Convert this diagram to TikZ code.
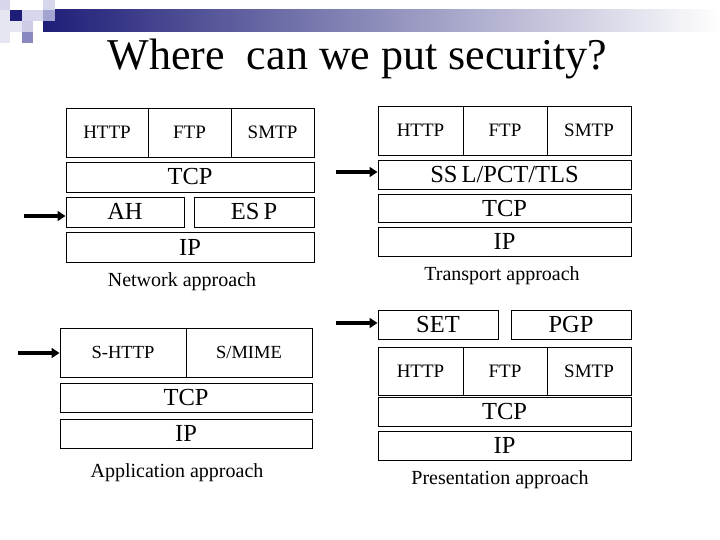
\documentclass[tikz,border=0pt]{standalone}
\usepackage{fontspec}
\setmainfont{Liberation Serif}
\usetikzlibrary{arrows.meta}

\definecolor{barnavy}{HTML}{1E1E78}
\definecolor{sqlight}{HTML}{D6D6EC}
\definecolor{sqmid}{HTML}{A4A4D2}
\definecolor{sqpale}{HTML}{E6E6F2}

\tikzset{
  layer/.style={draw, line width=0.9pt, inner sep=0pt, text height=16pt, text depth=0pt, font=\fontsize{24.5}{27}\selectfont},
  proto/.style={layer, text height=12.5pt, font=\fontsize{19}{21}\selectfont},
  approach/.style={anchor=base, font=\fontsize{20}{22}\selectfont},
  push/.style={line width=4pt, -{Triangle[length=8pt,width=10pt]}}
}

\begin{document}
\begin{tikzpicture}[x=1pt, y=-1pt]
        \useasboundingbox (0,0) rectangle (720,540); % pagina 720x540
        % barra del titolo
        \shade[left color=barnavy, right color=white] (43,10) rectangle (720,32);
        \fill[sqlight] (0,0) rectangle (10,10);
        \fill[sqpale] (0,10) rectangle (10,43);
        \fill[barnavy] (10,10) rectangle (22,21);
        \fill[sqpale] (10,21) rectangle (22,32);
        \fill[sqlight] (22,10) rectangle (33,21);
        \fill[sqlight!80!sqmid] (22,21) rectangle (33,32);
        \fill[sqmid!80!barnavy] (22,32) rectangle (33,43);
        \fill[sqlight] (33,10) rectangle (43,21);
        \fill[sqlight] (43,0) rectangle (55,10);
        \fill[sqmid] (43,10) rectangle (55,21);
        \node[anchor=base, font=\fontsize{44}{48}\selectfont] (title) at (357.5,70) {Where\ \ can we put security?};

        % approccio di rete
        \node[proto, minimum width=82pt, minimum height=49pt] (nhttp) at (107,132.5) {HTTP};
        \node[proto, minimum width=83pt, minimum height=49pt] (nftp) at (189.5,132.5) {FTP};
        \node[proto, minimum width=83pt, minimum height=49pt] (nsmtp) at (272.5,132.5) {SMTP};
        \node[layer, minimum width=248pt, minimum height=30pt] (ntcp) at (190,177) {TCP};
        \node[layer, minimum width=118pt, minimum height=30pt] (nah) at (125,212) {AH};
        \node[layer, minimum width=120pt, minimum height=30pt] (nesp) at (254,212) {ES\,P};
        \node[layer, minimum width=248pt, minimum height=30pt] (nip) at (190,247) {IP};
        \node[approach] (nlabel) at (182,286) {Network approach};
        \coordinate (narrow) at (24,216);
        \draw[push] (narrow) -- (narrow -| nah.west);

        % approccio di trasporto
        \node[proto, minimum width=85pt, minimum height=49pt] (thttp) at (420.5,130.5) {HTTP};
        \node[proto, minimum width=84pt, minimum height=49pt] (tftp) at (505,130.5) {FTP};
        \node[proto, minimum width=84pt, minimum height=49pt] (tsmtp) at (589,130.5) {SMTP};
        \node[layer, minimum width=253pt, minimum height=29pt] (tssl) at (504.5,174.5) {SS\,L/PCT/TLS};
        \node[layer, minimum width=253pt, minimum height=28pt] (ttcp) at (504.5,208) {TCP};
        \node[layer, minimum width=253pt, minimum height=29pt] (tip) at (504.5,241.5) {IP};
        \node[approach] (tlabel) at (502,280) {Transport approach};
        \coordinate (tarrow) at (336,172);
        \draw[push] (tarrow) -- (tarrow -| tssl.west);

        % approccio applicativo
        \node[proto, font=\fontsize{18.5}{20}\selectfont, minimum width=126pt, minimum height=49pt] (ashttp) at (123,352.5) {S-HTTP};
        \node[proto, font=\fontsize{18.5}{20}\selectfont, minimum width=126pt, minimum height=49pt] (asmime) at (249,352.5) {S/MIME};
        \node[layer, minimum width=252pt, minimum height=29pt] (atcp) at (186,397.5) {TCP};
        \node[layer, minimum width=252pt, minimum height=29pt] (aip) at (186,433.5) {IP};
        \node[approach] (alabel) at (177,477) {Application approach};
        \coordinate (aarrow) at (18,353);
        \draw[push] (aarrow) -- (aarrow -| ashttp.west);

        % approccio di presentazione
        \node[layer, minimum width=120pt, minimum height=29pt] (pset) at (438,324.5) {SET};
        \node[layer, minimum width=120pt, minimum height=29pt] (ppgp) at (571,324.5) {PGP};
        \node[proto, minimum width=85pt, minimum height=48pt] (phttp) at (420.5,371) {HTTP};
        \node[proto, minimum width=84pt, minimum height=48pt] (pftp) at (505,371) {FTP};
        \node[proto, minimum width=84pt, minimum height=48pt] (psmtp) at (589,371) {SMTP};
        \node[layer, minimum width=253pt, minimum height=29pt] (ptcp) at (504.5,411.5) {TCP};
        \node[layer, minimum width=253pt, minimum height=29pt] (pip) at (504.5,445.5) {IP};
        \node[approach] (plabel) at (500,484) {Presentation approach};
        \coordinate (parrow) at (336,323);
        \draw[push] (parrow) -- (parrow -| pset.west);
    \end{tikzpicture}
\end{document}
